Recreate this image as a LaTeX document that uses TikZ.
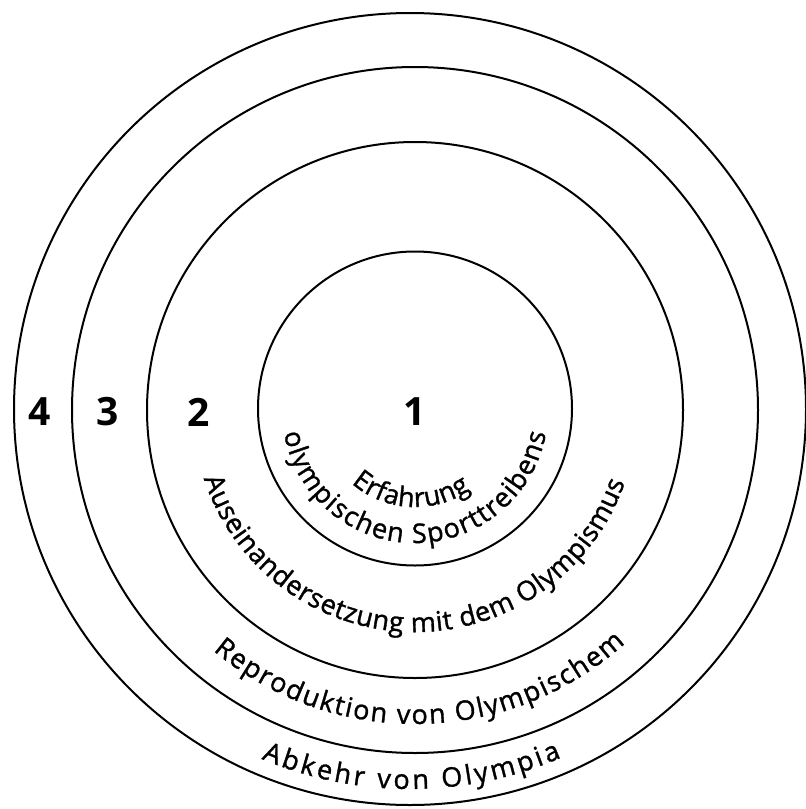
\documentclass[tikz,border=0pt]{standalone}
\usepackage{fontspec}
\setmainfont{Open Sans}
\newfontfamily\ringfont{Open Sans}[FakeBold=1.2]
\usetikzlibrary{decorations.text}

\begin{document}
\begin{tikzpicture}[x=1pt, y=1pt,
  ring/.style={draw, circle, line width=2pt, inner sep=0pt},
  num/.style={font=\fontsize{39}{40}\selectfont\bfseries},
  ringtext/.style={decorate, decoration={text along path, text align={fit to path},
    text={|\ringfont\fontsize{27}{30}\selectfont|#1}}}]
  \useasboundingbox (0,0) rectangle (806,-809);
  \coordinate (mid) at (415,-410);
  \coordinate (mid4) at (410,-409);

  \node[ring, minimum size=314pt] (ring1) at (415,-408.5) {};
  \node[ring, minimum size=536pt] (ring2) at (mid) {};
  \node[ring, minimum size=686pt] (ring3) at (mid) {};
  \node[ring, minimum size=792pt] (ring4) at (mid4) {};

  \node[num] (n4) at (40,-412) {4};
  \node[num] (n3) at (108,-412) {3};
  \node[num] (n2) at (199,-412) {2};
  \node[num] (n1) at (415,-412) {1};

  \path[ringtext=Erfahrung] (mid) ++(229:97) arc[start angle=229, end angle=305, radius=97];
  \path[ringtext=olympischen Sporttreibens] (mid) ++(190:133) arc[start angle=190, end angle=350, radius=133];
  \path[ringtext=Auseinandersetzung mit dem Olympismus] (mid) ++(198:222) arc[start angle=198, end angle=341, radius=222];
  \path[ringtext=Reproduktion von Olympischem] (mid) ++(230:314) arc[start angle=230, end angle=312, radius=314];
  \path[ringtext=Abkehr von Olympia] (mid4) ++(247:380) arc[start angle=247, end angle=293.5, radius=380];
\end{tikzpicture}
\end{document}
